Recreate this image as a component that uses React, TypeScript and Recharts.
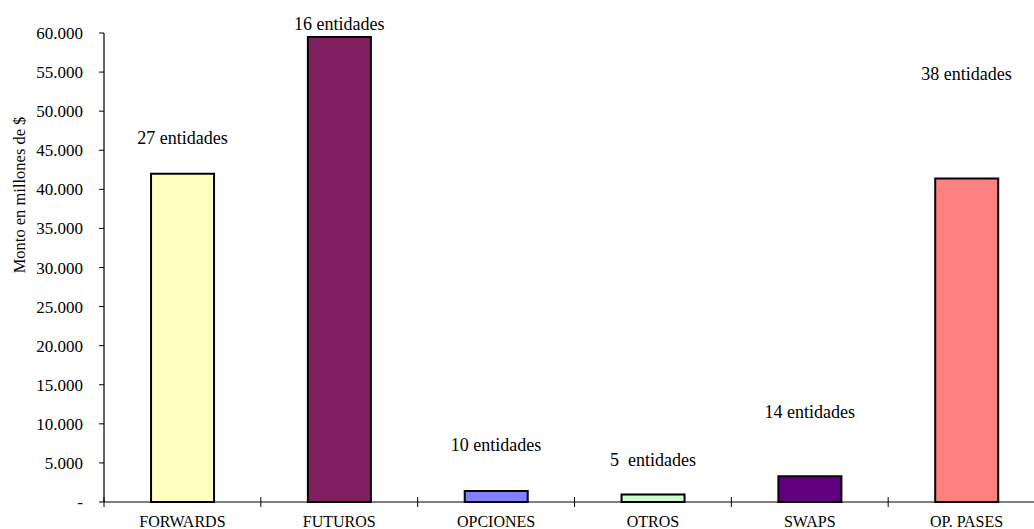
import React from 'react';
import { BarChart, Bar, XAxis, YAxis, Cell, ReferenceDot, Label } from 'recharts';

const categories = ['FORWARDS', 'FUTUROS', 'OPCIONES', 'OTROS', 'SWAPS', 'OP. PASES'];
const amounts = [42000, 59500, 1400, 950, 3300, 41400];
const entityLabels = ['27 entidades', '16 entidades', '10 entidades', '5  entidades', '14 entidades', '38 entidades'];
const labelLevels = [46600, 61200, 7400, 5400, 11600, 54800];
const barColors = ['#FFFFC0', '#802060', '#8080FF', '#CCFFCC', '#600080', '#FF8080'];
const yTicks = [0, 5000, 10000, 15000, 20000, 25000, 30000, 35000, 40000, 45000, 50000, 55000, 60000];

const data = categories.map((c, i) => ({ name: c, amount: amounts[i] }));

const FONT = '"Liberation Serif", "Times New Roman", serif';

const fmtY = (v: number) => (v === 0 ? '-' : `${Math.round(v / 1000)}.000`);

const XTick = (props: any) => {
  const { x, y, payload, index } = props;
  const off = payload.offset || 0;
  const isLast = index === categories.length - 1;
  return (
    <g>
      <line x1={x - off} x2={x - off} y1={y - 5} y2={y + 5} stroke="#000" strokeWidth={1} />
      {isLast && <line x1={x + off} x2={x + off} y1={y - 5} y2={y + 5} stroke="#000" strokeWidth={1} />}
      <text x={x} y={y + 24.5} textAnchor="middle" style={{ fontFamily: FONT, fontSize: 16 }} fill="#000">
        {payload.value}
      </text>
    </g>
  );
};

const makeLabel = (txt: string) => (props: any) => {
  const vb = props.viewBox || {};
  const cx = (vb.x || 0) + (vb.width || 0) / 2;
  const cy = (vb.y || 0) + (vb.height || 0) / 2;
  return (
    <text x={cx} y={cy} dy="0.355em" textAnchor="middle" fill="#000" style={{ whiteSpace: 'pre', fontFamily: FONT, fontSize: 18 }}>
      {txt}
    </text>
  );
};

const YTitle = () => {
  return (
    <text
      x={25}
      y={195}
      transform="rotate(-90 25 195)"
      textAnchor="middle"
      fill="#000"
      style={{ fontFamily: FONT, fontSize: 16.5 }}
    >
      Monto en millones de $
    </text>
  );
};

export default function App() {
  return (
    <div style={{ position: 'absolute', left: 0, top: 0, width: 1034, height: 529, overflow: 'hidden', background: '#fff' }}>
      <BarChart
        width={1060}
        height={529}
        data={data}
        margin={{ top: 33, right: 15, bottom: 0, left: 14 }}
        barCategoryGap="30%"
      >
        <XAxis
          dataKey="name"
          height={27}
          tickSize={0}
          tickMargin={0}
          tickLine={false}
          axisLine={{ stroke: '#000', strokeWidth: 1.2 }}
          tick={<XTick />}
          interval={0}
        />
        <YAxis
          width={90}
          domain={[0, 60000]}
          ticks={yTicks}
          interval={0}
          tickFormatter={fmtY}
          tickSize={5}
          tickMargin={16}
          axisLine={{ stroke: '#000', strokeWidth: 1.2 }}
          tickLine={{ stroke: '#000' }}
          tick={{ fill: '#000', style: { fontFamily: FONT, fontSize: 17 } }}
        >
          <Label content={<YTitle />} />
        </YAxis>
        <Bar dataKey="amount" stroke="#000" strokeWidth={2} isAnimationActive={false}>
          {data.map((d, i) => (
            <Cell key={d.name} fill={barColors[i]} />
          ))}
        </Bar>
        {categories.map((c, i) => (
          <ReferenceDot
            key={c}
            x={c}
            y={labelLevels[i]}
            r={0}
            fill="none"
            stroke="none"
            ifOverflow="visible"
            label={makeLabel(entityLabels[i])}
          />
        ))}
      </BarChart>
    </div>
  );
}
